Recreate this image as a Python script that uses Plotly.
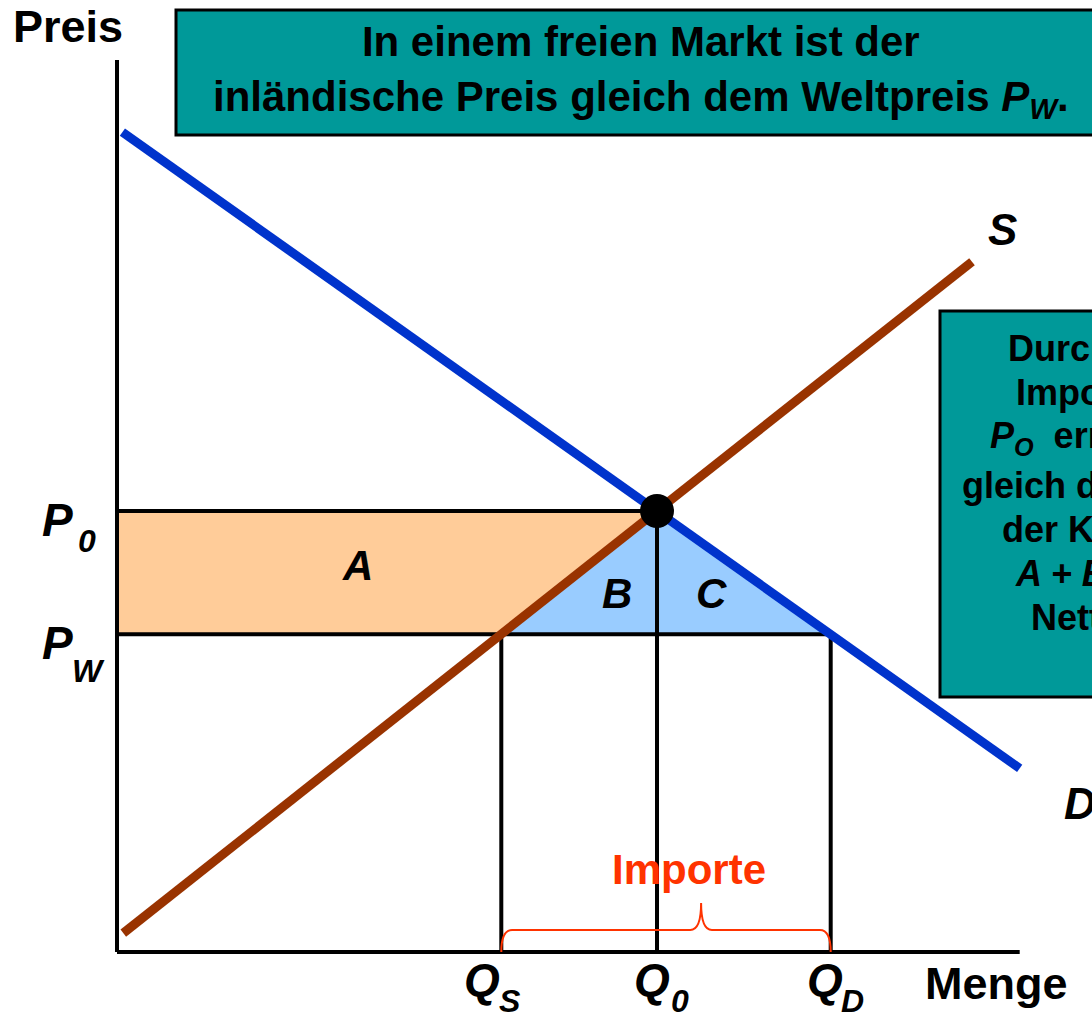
import plotly.graph_objects as go

# ---- data ----
demand_q = [0.06, 10.03]
demand_p = [9.11, 2.04]
supply_q = [0.07, 9.50]
supply_p = [0.21, 7.67]

Q0, P0 = 6.00, 4.90      # equilibrium without trade
PW = 3.53                # world price
QS, QD = 4.27, 7.93      # domestic supply / demand at world price
x_axis_end = 10.03
y_axis_end = 9.91
brace_tip_q = 6.49
brace_h, brace_tip_h = 0.244, 0.544

title_lines = ["In einem freien Markt ist der",
               "inländische Preis gleich dem Weltpreis <i>P</i><sub><i>W</i></sub>."]
side_lines = ["Durch den", "Import wird", "<i>P</i><sub><i>O</i></sub>&nbsp; erreicht; der Gewinn ist",
              "gleich der Zunahme", "der Konsumentenrente", "<i>A + B + C</i>", "Netto"]
q_labels = [("Q", "S"), ("Q", "0"), ("Q", "D")]
p_labels = [("P", "0"), ("P", "W")]

FONT = "Liberation Sans, Arial, sans-serif"
W, H = 1092, 1016
px_per_unit = 90.0
ox, oy = 117, 952   # pixel of origin

fig = go.Figure()

# area A (orange)
fig.add_trace(go.Scatter(x=[0, QS, Q0, 0, 0], y=[PW, PW, P0, P0, PW], mode="lines",
                         fill="toself", fillcolor="#FFCC99", line=dict(width=0),
                         hoverinfo="skip", showlegend=False))
# areas B + C (light blue)
fig.add_trace(go.Scatter(x=[QS, Q0, QD, QS], y=[PW, P0, PW, PW], mode="lines",
                         fill="toself", fillcolor="#99CCFF", line=dict(width=2, color="black"),
                         hoverinfo="skip", showlegend=False))

# black guide lines
def seg(x, y, w=4, c="black"):
    fig.add_trace(go.Scatter(x=x, y=y, mode="lines", line=dict(color=c, width=w),
                             hoverinfo="skip", showlegend=False))

seg([0, Q0], [P0, P0])
seg([0, QD], [PW, PW])
seg([QS, QS], [0, PW])
seg([Q0, Q0], [0, P0])
seg([QD, QD], [0, PW])
# axes
seg([0, 0], [0, y_axis_end], w=4)
seg([0, x_axis_end], [0, 0], w=4)

# supply & demand
seg(supply_q, supply_p, w=9, c="#993300")
seg(demand_q, demand_p, w=9, c="#0033CC")

# equilibrium dot
fig.add_trace(go.Scatter(x=[Q0], y=[P0], mode="markers",
                         marker=dict(size=34, color="black"),
                         hoverinfo="skip", showlegend=False))

# brace for imports
r = 0.12
path = (f"M {QS},0 Q {QS},{brace_h} {QS + r},{brace_h} "
        f"L {brace_tip_q - r},{brace_h} Q {brace_tip_q},{brace_h} {brace_tip_q},{brace_tip_h} "
        f"Q {brace_tip_q},{brace_h} {brace_tip_q + r},{brace_h} "
        f"L {QD - r},{brace_h} Q {QD},{brace_h} {QD},0")
fig.add_shape(type="path", path=path, xref="x", yref="y",
              line=dict(color="#FF3300", width=2))

# boxes (paper coords)
def px_x(p): return p / W
def px_y(p): return 1 - p / H

fig.add_shape(type="rect", xref="paper", yref="paper",
              x0=px_x(176), x1=px_x(1130), y0=px_y(135), y1=px_y(10),
              fillcolor="#009999", line=dict(color="black", width=3))
fig.add_shape(type="rect", xref="paper", yref="paper",
              x0=px_x(940), x1=px_x(1300), y0=px_y(697), y1=px_y(311),
              fillcolor="#009999", line=dict(color="black", width=3))

ann = []
def txt(text, x, y, size=40, color="black", xanchor="center", yanchor="middle",
        xref="paper", yref="paper", align="center", xshift=0, yshift=0):
    ann.append(dict(text=text, x=x, y=y, xref=xref, yref=yref, showarrow=False,
                    xanchor=xanchor, yanchor=yanchor, align=align,
                    xshift=xshift, yshift=yshift,
                    font=dict(family=FONT, size=size, color=color)))

txt("<b>" + "<br>".join(title_lines) + "</b>", px_x(641), px_y(72), size=42)

side_y = [348, 392, 438, 485, 529, 573, 617]
side_x = [1008, 1016, 990, 962, 1002, 1015, 1031]
for t, xx, yy in zip(side_lines, side_x, side_y):
    txt("<b>" + t + "</b>", px_x(xx - 2), px_y(yy), size=36, xanchor="left")

txt("<b>Preis</b>", px_x(68), px_y(27), size=45)
txt("<b>Menge</b>", px_x(996), px_y(983), size=45)
txt("<b><i>S</i></b>", px_x(1002), px_y(229), size=44)
txt("<b><i>D</i></b>", px_x(1062), px_y(803), size=44, xanchor="left")
txt("<b><i>A</i></b>", 2.67, 4.3, size=42, xref="x", yref="y")
txt("<b><i>B</i></b>", 5.55, 3.98, size=42, xref="x", yref="y")
txt("<b><i>C</i></b>", 6.6, 3.98, size=42, xref="x", yref="y")

# price labels: main letter + subscript as separate texts
for (m, s), pv in zip(p_labels, [P0, PW]):
    txt(f"<b><i>{m}</i></b>", 0, pv, size=46, xref="x", yref="y", xshift=-60, yshift=-9)
    txt(f"<b><i>{s}</i></b>", 0, pv, size=32, xref="x", yref="y",
        xshift=-30 if s == "0" else -29, yshift=-30 if s == "0" else -37)

# quantity labels
for (m, s), qv, dx in zip(q_labels, [QS, Q0, QD], [-19, -5, -6]):
    txt(f"<b><i>{m}</i></b>", qv, 0, size=46, xref="x", yref="y", xshift=dx, yshift=-28)
    txt(f"<b><i>{s}</i></b>", qv, 0, size=32, xref="x", yref="y", xshift=dx + 28, yshift=-49)

txt("<b>Importe</b>", 6.35, 0.915, size=42, color="#FF3300", xref="x", yref="y")

fig.update_layout(
    width=W, height=H, margin=dict(l=0, r=0, t=0, b=0),
    paper_bgcolor="white", plot_bgcolor="white",
    xaxis=dict(range=[-ox / px_per_unit, (W - ox) / px_per_unit], visible=False, fixedrange=True),
    yaxis=dict(range=[-(H - oy) / px_per_unit, oy / px_per_unit], visible=False, fixedrange=True),
    annotations=ann, showlegend=False,
)

fig.write_html("out.html", config={"displayModeBar": False},
               post_script="document.body.style.margin='0';")
